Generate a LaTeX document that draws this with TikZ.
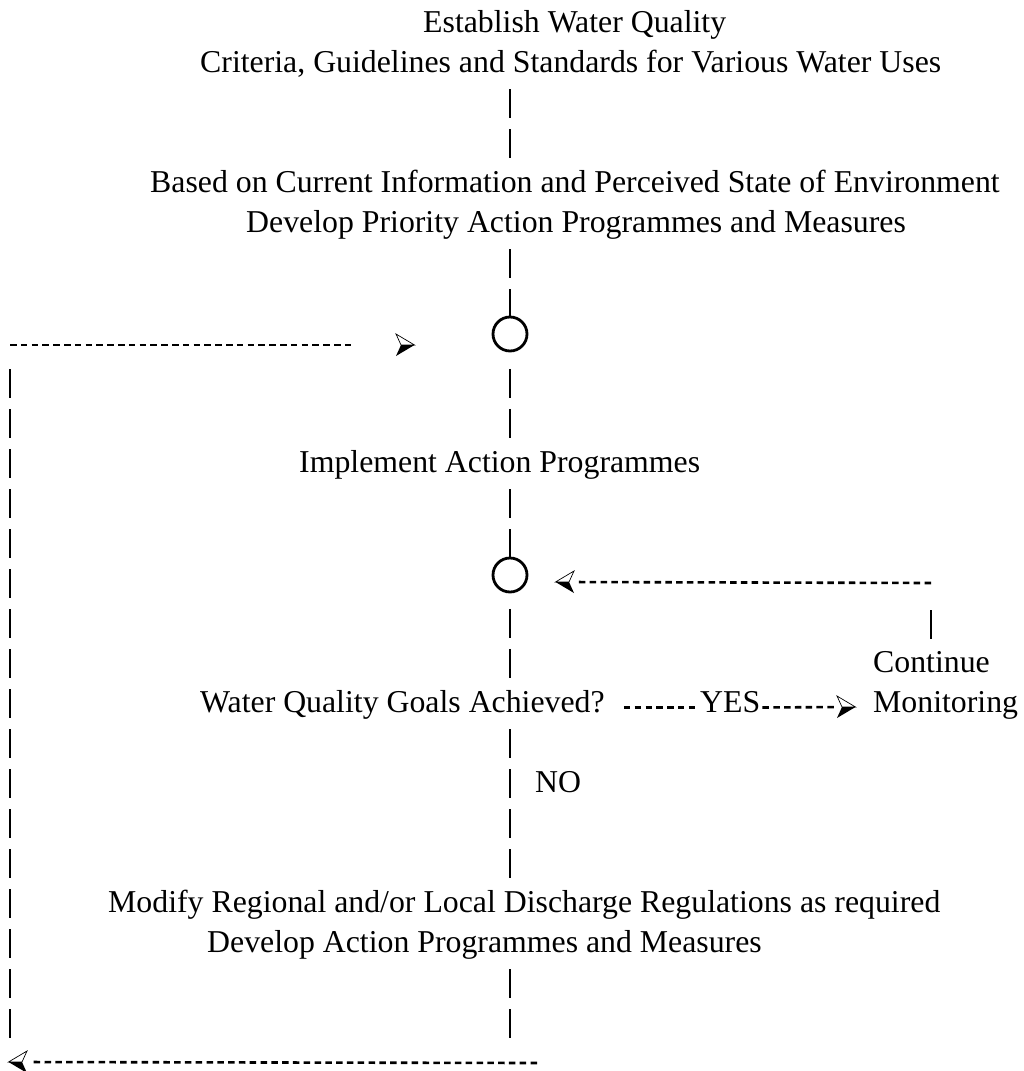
\documentclass[tikz,border=0pt]{standalone}
\usepackage{fontspec}
\setmainfont{Liberation Serif}
\usepackage{tikz}

\tikzset{
	txt/.style={inner sep=0pt, anchor=base west, text height=26pt, text depth=17pt},
	ring/.style={draw, circle, line width=2.8pt, minimum size=34pt, inner sep=0pt},
	pipe/.style={line width=1.3pt, dash pattern=on 29pt off 11pt},
	hyph/.style={line width=2.6pt, dash pattern=on 6.5pt off 4.3pt},
	arrhead/.pic={
		\fill (-4,0) -- (9.5,0) -- (-9,11) -- cycle;
		\draw[line width=0.7pt, line join=miter] (-4,0) -- (9.5,0) -- (-9,-11) -- cycle;
	}
}

\begin{document}
\begin{tikzpicture}[x=1pt, y=-1pt, font=\fontsize{31.8}{38}\selectfont]
	\useasboundingbox (0,0) rectangle (1024,1071);

	\node[txt] (estab) at (423, 32) {Establish Water Quality};
	\node[txt] (crit) at (200, 72) {Criteria, Guidelines and Standards for Various Water Uses};
	\node[txt] (based) at (150, 192) {Based on Current Information and Perceived State of Environment};
	\node[txt] (devprio) at (246, 232) {Develop Priority Action Programmes and Measures};
	\node[txt] (impl) at (299, 472) {Implement Action Programmes};
	\node[txt] (goals) at (200, 712) {Water Quality Goals Achieved?};
	\node[txt] (yes) at (700, 712) {YES};
	\node[txt] (cont) at (873, 672) {Continue};
	\node[txt] (mon) at (873, 712) {Monitoring};
	\node[txt] (no) at (535, 792) {NO};
	\node[txt] (modify) at (108, 912) {Modify Regional and/or Local Discharge Regulations as required};
	\node[txt] (devact) at (207, 952) {Develop Action Programmes and Measures};

	\node[ring] (j1) at (510, 334) {};
	\node[ring] (j2) at (510, 575) {};

	\coordinate (tl) at (10, 345);
	\coordinate (bl) at (10, 1040);
	\coordinate (ah1) at (405, 345);
	\coordinate (rt) at (931, 583);
	\coordinate (ah2) at (565, 582);
	\coordinate (ah4) at (846, 707);
	\coordinate (bend1) at (510, 1045);
	\coordinate (bend2) at (537, 1063);
	\coordinate (ah3) at (18, 1062);

	\draw [pipe] (crit.south -| j1) to (based.north -| j1);
	\draw [pipe] (devprio.south -| j1) to (j1);
	\draw [pipe, shorten <=16.5pt] (j1) to (impl.north -| j1);
	\draw [pipe] (impl.south -| j2) to (j2);
	\draw [pipe, shorten <=15.5pt] (j2) to (goals.north -| j2);
	\draw [pipe] (goals.south -| j2) to (modify.north -| j2);
	\draw [pipe] (devact.south -| j2) to (bend1);
	\draw [hyph, shorten >=15pt] (bend2) to (ah3);
	\draw [pipe, shorten <=24pt] (tl) to (bl);
	\draw [hyph, shorten >=50pt] (tl) to (ah1);
	\draw [hyph, shorten >=13pt] (rt) to (ah2);
	\draw [pipe, shorten <=27pt] (rt) to (cont.north -| rt);
	\draw [hyph, shorten <=19pt, shorten >=2pt] (goals.east) to (yes.west);
	\draw [hyph, shorten <=2pt, shorten >=11pt] (yes.east) to (ah4);

	\pic at (ah1) {arrhead};
	\pic[xscale=-1] at (ah2) {arrhead};
	\pic at (ah4) {arrhead};
	\pic[xscale=-1] at (ah3) {arrhead};
\end{tikzpicture}
\end{document}
